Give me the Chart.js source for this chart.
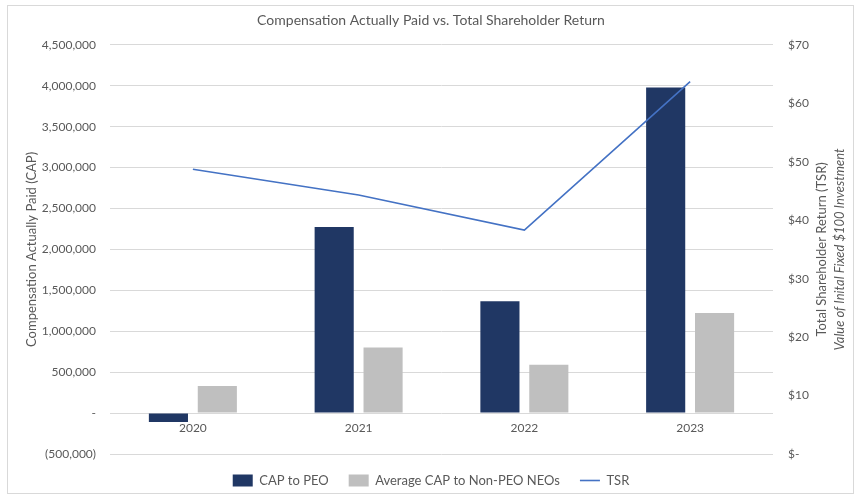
<!DOCTYPE html>
<html>
<head>
<meta charset="utf-8">
<script src="https://cdn.jsdelivr.net/npm/chart.js@4.4.1/dist/chart.umd.min.js"></script>
<style>
  html, body { margin: 0; padding: 0; background: #fff; }
  #wrap { position: relative; width: 862px; height: 499px; }
  #frame { position: absolute; left: 7px; top: 5px; width: 847px; height: 489px; border: 1px solid #d9d9d9; box-sizing: border-box; pointer-events: none; }
  canvas { position: absolute; left: 0; top: 0; }
</style>
</head>
<body>
<div id="wrap">
  <canvas id="c" width="862" height="499"></canvas>
  <div id="frame"></div>
</div>
<script>
const years = ['2020', '2021', '2022', '2023'];
const capToPEO = [-110000, 2274000, 1365000, 3978000];
const avgCapNonPEO = [330000, 800000, 592000, 1224000];
const tsr = [48.7, 44.3, 38.3, 63.7];

const seriesNames = ['CAP to PEO', 'Average CAP to Non-PEO NEOs', 'TSR'];
const chartTitle = 'Compensation Actually Paid vs. Total Shareholder Return';
const leftTitle = 'Compensation Actually Paid (CAP)';
const rightTitle1 = 'Total Shareholder Return (TSR)';
const rightTitle2 = 'Value of Inital Fixed $100 Investment';

const FONT = 'Lato';
const TXT = '#595959';
const GRID = '#d9d9d9';

function fmtNum(v) {
  return Math.round(v).toLocaleString('en-US');
}

const rightTitlePlugin = {
  id: 'rightTitles',
  afterDraw(chart) {
    const ctx = chart.ctx;
    const ca = chart.chartArea;
    const cy = (ca.top + ca.bottom) / 2;
    ctx.save();
    ctx.fillStyle = TXT;
    ctx.textAlign = 'center';
    ctx.textBaseline = 'middle';
    ctx.translate(ca.right + 49, cy);
    ctx.rotate(-Math.PI / 2);
    ctx.font = '13px ' + FONT;
    ctx.fillText(rightTitle1, 0, 0);
    ctx.font = 'italic 13px ' + FONT;
    ctx.fillText(rightTitle2, 0, 18);
    ctx.restore();
  }
};

Chart.defaults.font.family = FONT;
Chart.defaults.color = TXT;

new Chart(document.getElementById('c'), {
  type: 'bar',
  data: {
    labels: years,
    datasets: [
      {
        label: seriesNames[0],
        data: capToPEO,
        backgroundColor: '#203764',
        yAxisID: 'y',
        order: 1,
        categoryPercentage: 0.59,
        barPercentage: 0.8,
        pointStyle: 'rect'
      },
      {
        label: seriesNames[1],
        data: avgCapNonPEO,
        backgroundColor: '#BFBFBF',
        yAxisID: 'y',
        order: 1,
        categoryPercentage: 0.59,
        barPercentage: 0.8,
        pointStyle: 'rect'
      },
      {
        type: 'line',
        label: seriesNames[2],
        data: tsr,
        borderColor: '#4472C4',
        backgroundColor: '#4472C4',
        borderWidth: 1.6,
        pointRadius: 0,
        tension: 0,
        yAxisID: 'y1',
        order: 0,
        pointStyle: 'line'
      }
    ]
  },
  options: {
    responsive: false,
    animation: false,
    devicePixelRatio: 1,
    layout: { padding: { top: 4, bottom: 2, left: 8, right: 8 } },
    plugins: {
      title: {
        display: true,
        text: chartTitle,
        color: TXT,
        font: { family: FONT, size: 14, weight: 'normal' },
        padding: { top: 8, bottom: 16 }
      },
      legend: {
        position: 'bottom',
        labels: {
          color: TXT,
          font: { family: FONT, size: 13 },
          usePointStyle: true,
          pointStyleWidth: 20,
          boxHeight: 12,
          padding: 20,
          sort: (a, b) => a.datasetIndex - b.datasetIndex
        }
      },
      tooltip: { enabled: false }
    },
    scales: {
      x: {
        position: { y: 0 },
        grid: { display: false, drawTicks: false },
        border: { display: false },
        ticks: { color: TXT, font: { family: FONT, size: 12 }, padding: 8 }
      },
      y: {
        position: 'left',
        min: -500000,
        max: 4500000,
        grid: { color: GRID, lineWidth: 1, drawTicks: false },
        border: { display: false },
        ticks: {
          stepSize: 500000,
          padding: 14,
          color: TXT,
          font: { family: FONT, size: 12 },
          callback: v => v === 0 ? '-' : (v < 0 ? '(' + fmtNum(-v) + ')' : fmtNum(v))
        },
        title: {
          display: true,
          text: leftTitle,
          color: TXT,
          font: { family: FONT, size: 13 },
          padding: { top: 16, bottom: 0 }
        },
        afterFit: s => { s.width = 102; }
      },
      y1: {
        position: 'right',
        min: 0,
        max: 70,
        grid: { display: false, drawTicks: false },
        border: { display: false },
        ticks: {
          stepSize: 10,
          padding: 15,
          color: TXT,
          font: { family: FONT, size: 12 },
          callback: v => v === 0 ? '$-' : '$' + v
        },
        afterFit: s => { s.width = 81; }
      }
    }
  },
  plugins: [rightTitlePlugin]
});
</script>
</body>
</html>
